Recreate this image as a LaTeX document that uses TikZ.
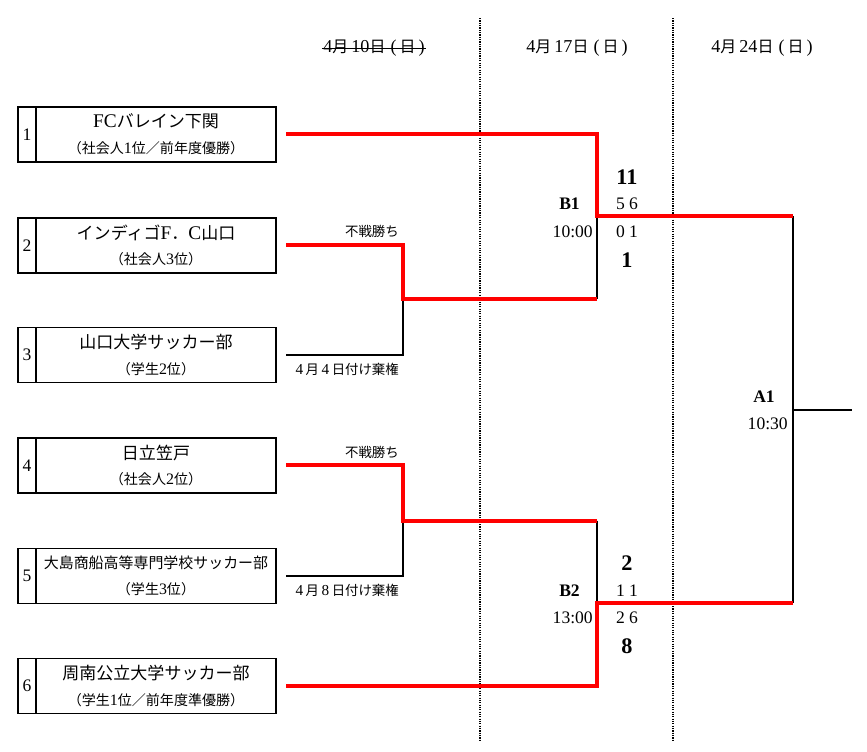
\documentclass[tikz,border=0pt]{standalone}
\usepackage{fontspec}
\setmainfont{Liberation Serif}
\newfontfamily\cjk[Scale=0.88]{Noto Sans CJK JP}
\newcommand{\jp}[1]{{\cjk #1}}
\newcommand{\sous}{\fontsize{13.6}{15}\selectfont}

\begin{document}
\begin{tikzpicture}[x=0.03cm, y=-0.03cm]
\tikzset{numero/.style={draw, line width=1.1pt, minimum width=0.54cm, minimum height=1.65cm, inner sep=0pt, font=\fontsize{15}{18}\selectfont},
boite/.style={draw, line width=1.1pt, minimum width=7.2cm, minimum height=1.65cm, inner sep=0pt, align=center, font=\fontsize{16.5}{22}\selectfont},
date/.style={inner sep=1pt, font=\fontsize{15.5}{17}\selectfont},
note/.style={inner sep=0pt, anchor=east, font=\fontsize{13}{15}\selectfont},
score/.style={inner sep=0pt, font=\fontsize{15}{17}\selectfont},
gros/.style={inner sep=0pt, font=\fontsize{19}{21}\selectfont\bfseries},
match/.style={inner sep=0pt, anchor=east, font=\fontsize{15}{17}\selectfont\bfseries},
heure/.style={inner sep=0pt, anchor=east, font=\fontsize{15}{17}\selectfont},
rouge/.style={draw=red, line width=3.4pt},
noir/.style={draw=black, line width=1.2pt},
pointille/.style={draw=black, densely dotted, line width=1pt}}
\useasboundingbox (0,0) rectangle (867,751);
% colonnes
\draw[pointille] (480,18) -- (480,741);
\draw[pointille] (673,18) -- (673,741);
\node[date] (H1) at (374,48) {4\jp{月}\,10\jp{日}\;(\,\jp{日}\,)};
\node[date] (H2) at (577,48) {4\jp{月}\,17\jp{日}\;(\,\jp{日}\,)};
\node[date] (H3) at (762,48) {4\jp{月}\,24\jp{日}\;(\,\jp{日}\,)};
\draw[line width=0.8pt] (H1.west) -- (H1.east);
% equipes
\node[numero] (N1) at (27,134.5) {1};
\node[numero] (N2) at (27,245.5) {2};
\node[numero] (N3) at (27,355) {3};
\node[numero] (N4) at (27,465.5) {4};
\node[numero] (N5) at (27,576) {5};
\node[numero] (N6) at (27,686) {6};
\node[boite] (T1) at (156,134.5) {FC\jp{バレイン下関}\\{\sous\jp{（社会人}1\jp{位／前年度優勝）}}};
\node[boite] (T2) at (156,245.5) {\jp{インディゴ}F\jp{．}C\jp{山口}\\{\sous\jp{（社会人}3\jp{位）}}};
\node[boite] (T3) at (156,355) {\jp{山口大学サッカー部}\\{\sous\jp{（学生}2\jp{位）}}};
\node[boite] (T4) at (156,465.5) {\jp{日立笠戸}\\{\sous\jp{（社会人}2\jp{位）}}};
\node[boite] (T5) at (156,576) {{\fontsize{14.5}{15}\selectfont\jp{大島商船高等専門学校サッカー部}}\\{\sous\jp{（学生}3\jp{位）}}};
\node[boite] (T6) at (156,686) {\jp{周南公立大学サッカー部}\\{\sous\jp{（学生}1\jp{位／前年度準優勝）}}};
% points du tableau
\coordinate (S1) at (286,134);
\coordinate (S2) at (286,245);
\coordinate (S3) at (286,355);
\coordinate (S4) at (286,465);
\coordinate (S5) at (286,576);
\coordinate (S6) at (286,686);
\coordinate (P1) at (403,299);
\coordinate (P2) at (403,520.5);
\coordinate (U1) at (597,299);
\coordinate (U2) at (597,520.5);
\coordinate (Q1) at (597,216);
\coordinate (Q2) at (597,603);
\coordinate (M1) at (793,216);
\coordinate (M2) at (793,603);
\coordinate (A) at (793,410);
\coordinate (F) at (852,410);
\draw[noir] (S3) -| (P1);
\draw[noir] (S5) -| (P2);
\draw[noir] (U1) -- (Q1);
\draw[noir] (U2) -- (Q2);
\draw[noir] (M1) -- (M2);
\draw[noir] (A) -- (F);
\draw[rouge] (S1) -| (Q1) -- (M1);
\draw[rouge] (S2) -| (P1) -- (U1);
\draw[rouge] (S4) -| (P2) -- (U2);
\draw[rouge] (S6) -| (Q2) -- (M2);
% notes
\node[note] (W1) at (399,231) {\jp{不戦勝ち}};
\node[note] (W2) at (399,452) {\jp{不戦勝ち}};
\node[note] (K1) at (399,369) {4\,\jp{月}\,4\,\jp{日付け棄権}};
\node[note] (K2) at (399,590) {4\,\jp{月}\,8\,\jp{日付け棄権}};
% B1
\node[gros] (G1) at (627,177) {11};
\node[score] (C1) at (627,204) {5 6};
\node[score] (C2) at (627,232) {0 1};
\node[gros] (G2) at (627,260) {1};
\node[match] (B1) at (580,204) {B1};
\node[heure] (E1) at (593,232) {10:00};
% B2
\node[gros] (G3) at (627,563) {2};
\node[score] (C3) at (627,591) {1 1};
\node[score] (C4) at (627,618) {2 6};
\node[gros] (G4) at (627,646) {8};
\node[match] (B2) at (580,591) {B2};
\node[heure] (E2) at (593,618) {13:00};
% A1
\node[match] (A1) at (775,397) {A1};
\node[heure] (E3) at (788,424) {10:30};
\end{tikzpicture}
\end{document}
